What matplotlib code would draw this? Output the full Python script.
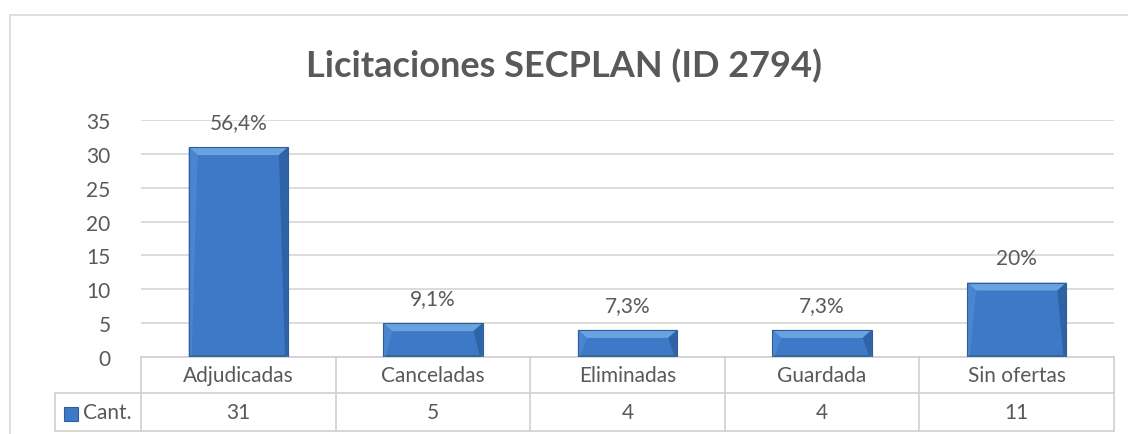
import matplotlib.pyplot as plt
from matplotlib.patches import Rectangle, Polygon
from matplotlib.transforms import blended_transform_factory

categories = ["Adjudicadas", "Canceladas", "Eliminadas", "Guardada", "Sin ofertas"]
counts = [31, 5, 4, 4, 11]
pct_labels = ["56,4%", "9,1%", "7,3%", "7,3%", "20%"]
series_name = "Cant."
title = "Licitaciones SECPLAN (ID 2794)"

text_col = "#595959"
grid_col = "#d9d9d9"
fs = 15
plt.rcParams['font.family'] = ['Lato', 'DejaVu Sans']

W, H = 1128, 435
fig = plt.figure(figsize=(W / 100, H / 100), dpi=100)

# outer chart border (right side runs off the image)
fig.add_artist(Rectangle((10 / W, -0.1), 1.2, (H - 16) / H + 0.1, transform=fig.transFigure,
                         fill=False, edgecolor=grid_col, lw=1.2))

left, right, top, bot = 141, 1114, 121, 358
ax = fig.add_axes([left / W, (H - bot) / H, (right - left) / W, (bot - top) / H])
ax.set_xlim(-0.5, len(categories) - 0.5)
ax.set_ylim(0, 35)
ax.set_yticks(range(0, 36, 5))
ax.yaxis.grid(True, color=grid_col, lw=1.3)
ax.set_axisbelow(True)
for s in ax.spines.values():
    s.set_visible(False)
ax.tick_params(axis='y', length=0, labelsize=fs, labelcolor=text_col, pad=22)
ax.set_xticks([])

bw = 0.51
bars = ax.bar(range(len(categories)), counts, width=bw, color="#3d79c7",
              edgecolor="none", zorder=2)

# bevel on each bar, sizes in pixels converted to data units
px_x = len(categories) / (right - left)
px_y = 35 / (bot - top)
for b in bars:
    x0, x1 = b.get_x(), b.get_x() + b.get_width()
    y1 = b.get_height()
    tx, ty = 9 * px_x, min(8 * px_y, y1 / 3)
    sx = 3 * px_x
    ax.add_patch(Polygon([(x0, y1), (x1, y1), (x1 - tx, y1 - ty), (x0 + tx, y1 - ty)],
                         facecolor="#6aa2e0", edgecolor="none", zorder=3))
    ax.add_patch(Polygon([(x0, y1), (x0 + tx, y1 - ty), (x0 + sx, 2 * px_y), (x0, 0)],
                         facecolor="#4a86cf", edgecolor="none", zorder=3))
    ax.add_patch(Polygon([(x1, y1), (x1 - tx, y1 - ty), (x1 - sx, 2 * px_y), (x1, 0)],
                         facecolor="#2f63a6", edgecolor="none", zorder=3))
    ax.add_patch(Polygon([(x0, 0), (x1, 0), (x1 - sx, 2 * px_y), (x0 + sx, 2 * px_y)],
                         facecolor="#33689f", edgecolor="none", zorder=3))
    ax.add_patch(Rectangle((x0, 0), x1 - x0, y1, fill=False, edgecolor="#2d5e9e",
                           lw=0.8, zorder=4))

for i, (v, lab) in enumerate(zip(counts, pct_labels)):
    ax.annotate(lab, (i, v), xytext=(0, 18), textcoords="offset points",
                ha="center", va="center", fontsize=fs, color=text_col)

fig.text(0.5, 1 - 77 / H, title, ha="center", va="baseline", fontsize=26,
         fontweight="bold", color=text_col)

# data table below the axis
tr = blended_transform_factory(ax.transData, fig.transFigure)
row1_top, row1_bot, row2_bot = bot, 394, 432
y = lambda p: (H - p) / H
xs = [i - 0.5 for i in range(len(categories) + 1)]
tcol = "#d0d0d0"
lw = 1.2
for yy in (row1_top, row1_bot, row2_bot):
    ax.plot([xs[0], xs[-1]], [y(yy)] * 2, transform=tr, color=tcol, lw=lw, clip_on=False)
for xv in xs:
    ax.plot([xv, xv], [y(row1_top), y(row2_bot)], transform=tr, color=tcol, lw=lw, clip_on=False)
# legend column of the table
fig.add_artist(plt.Line2D([55 / W, left / W], [y(row1_bot)] * 2, color=tcol, lw=lw))
fig.add_artist(plt.Line2D([55 / W, left / W], [y(row2_bot)] * 2, color=tcol, lw=lw))
fig.add_artist(plt.Line2D([55 / W] * 2, [y(row1_bot), y(row2_bot)], color=tcol, lw=lw))

for i, (c, v) in enumerate(zip(categories, counts)):
    ax.text(i, y((row1_top + row1_bot) / 2), c, transform=tr, ha="center", va="center",
            fontsize=fs, color=text_col)
    ax.text(i, y((row1_bot + row2_bot) / 2), str(v), transform=tr, ha="center", va="center",
            fontsize=fs, color=text_col)

fig.add_artist(Rectangle((64 / W, y(422)), 14 / W, 14 / H, transform=fig.transFigure,
                         facecolor="#3d79c7", edgecolor="#2d5e9e", lw=0.8))
fig.text(83 / W, y((row1_bot + row2_bot) / 2), series_name, ha="left", va="center",
         fontsize=fs, color=text_col)

fig.savefig("out.png", dpi=100)
